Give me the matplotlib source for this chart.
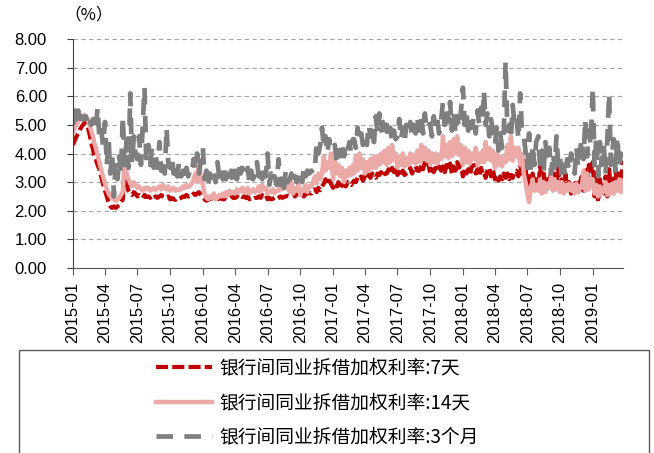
import matplotlib
matplotlib.use('Agg')
import matplotlib.pyplot as plt
import matplotlib.dates as mdates
from matplotlib.patches import Rectangle
import pandas as pd

plt.rcParams['font.family'] = ['Liberation Sans', 'Noto Sans CJK SC']

# 2015-01 .. 2019-03, 6 readings per month
months = pd.period_range('2015-01', '2019-03', freq='M')
obs_days = [1, 6, 11, 16, 21, 26]

# 银行间同业拆借加权利率:7天
rate_7d = [
    4.3, 4.45, 4.6, 4.7, 4.85, 4.95,  5.05, 5.1, 4.95, 4.7, 4.4, 4.15,
    3.95, 3.8, 3.6, 3.45, 3.2, 2.95,  2.7, 2.5, 2.3, 2.15, 2.1, 2.15,
    2.1, 2.15, 2.2, 2.3, 2.4, 3.25,  2.9, 2.7, 2.6, 2.55, 2.65, 2.6,
    2.5, 2.55, 2.5, 2.45, 2.55, 2.48,  2.5, 2.45, 2.52, 2.45, 2.5, 2.45,
    2.5, 2.55, 2.5, 2.48, 2.45, 2.5,  2.4, 2.45, 2.4, 2.38, 2.45, 2.42,
    2.45, 2.5, 2.48, 2.55, 2.5, 2.52,  2.5, 2.6, 2.55, 2.6, 2.65, 2.55,
    # 2016
    2.45, 2.4, 2.35, 2.38, 2.42, 2.45,  2.4, 2.35, 2.4, 2.42, 2.45, 2.4,
    2.4, 2.5, 2.45, 2.48, 2.55, 2.45,  2.45, 2.5, 2.45, 2.52, 2.48, 2.5,
    2.45, 2.5, 2.4, 2.45, 2.42, 2.45,  2.45, 2.5, 2.45, 2.55, 2.5, 2.55,
    2.4, 2.45, 2.4, 2.42, 2.45, 2.4,  2.45, 2.5, 2.45, 2.48, 2.5, 2.52,
    2.5, 2.55, 2.6, 2.5, 2.62, 2.5,  2.5, 2.55, 2.5, 2.58, 2.6, 2.62,
    2.6, 2.7, 2.75, 2.65, 2.8, 2.72,  2.85, 2.95, 3.1, 2.9, 3.05, 2.95,
    # 2017
    2.8, 2.95, 2.85, 3.0, 2.75, 2.9,  2.9, 2.85, 3.0, 2.95, 2.9, 3.0,
    3.05, 3.0, 3.15, 3.1, 3.2, 3.05,  3.2, 3.1, 3.25, 3.15, 3.3, 3.2,
    3.15, 3.3, 3.25, 3.35, 3.2, 3.3,  3.3, 3.45, 3.3, 3.5, 3.35, 3.55,
    3.25, 3.35, 3.2, 3.4, 3.25, 3.3,  3.35, 3.5, 3.3, 3.45, 3.55, 3.4,
    3.4, 3.6, 3.45, 3.7, 3.5, 3.65,  3.3, 3.45, 3.35, 3.5, 3.4, 3.55,
    3.4, 3.55, 3.35, 3.6, 3.45, 3.65,  3.3, 3.55, 3.4, 3.7, 3.5, 3.6,
    # 2018
    3.2, 3.5, 3.3, 3.45, 3.25, 3.55,  3.6, 3.3, 3.45, 3.2, 3.5, 3.3,
    3.35, 3.15, 3.4, 3.5, 3.2, 3.45,  3.1, 3.25, 3.05, 3.2, 3.1, 3.3,
    3.15, 3.3, 3.1, 3.25, 3.15, 3.35,  3.4, 3.2, 3.6, 3.3, 3.75, 3.5,
    2.9, 3.2, 2.8, 3.3, 2.95, 3.1,  2.75, 3.6, 2.9, 3.3, 2.8, 3.1,
    3.0, 3.4, 2.8, 3.3, 2.9, 3.5,  2.7, 3.1, 2.65, 3.3, 2.8, 3.0,
    2.6, 2.9, 2.7, 3.1, 2.65, 3.0,  3.2, 2.7, 3.5, 2.9, 3.6, 3.3,
    # 2019
    3.7, 2.5, 3.3, 2.3, 3.1, 2.7,  2.6, 3.2, 2.5, 3.45, 2.7, 3.1,
    2.7, 3.4, 2.9, 3.3, 2.8, 3.75,
]

# 银行间同业拆借加权利率:14天
rate_14d = [
    4.75, 4.9, 5.0, 5.15, 5.2, 5.3,  5.35, 5.3, 5.2, 5.0, 4.8, 4.6,
    4.4, 4.2, 3.95, 3.7, 3.45, 3.2,  2.95, 2.75, 2.6, 2.5, 2.45, 2.4,
    2.35, 2.4, 2.45, 2.55, 2.65, 3.7,  3.3, 3.1, 2.95, 2.85, 3.0, 2.9,
    2.8, 2.85, 2.75, 2.7, 2.8, 2.75,  2.8, 2.7, 2.75, 2.8, 2.72, 2.78,
    2.85, 2.75, 2.9, 2.8, 2.75, 2.85,  2.7, 2.75, 2.8, 2.7, 2.75, 2.72,
    2.75, 2.85, 2.8, 2.9, 2.82, 2.88,  2.95, 3.1, 3.3, 3.0, 3.8, 3.2,
    # 2016
    2.9, 2.6, 2.45, 2.4, 2.5, 2.45,  2.6, 2.4, 2.45, 2.55, 2.5, 2.6,
    2.5, 2.65, 2.55, 2.7, 2.6, 2.65,  2.6, 2.75, 2.65, 2.7, 2.8, 2.65,
    2.65, 2.8, 2.6, 2.7, 2.75, 2.65,  2.7, 2.85, 2.65, 2.9, 2.75, 2.8,
    2.6, 2.7, 2.65, 2.75, 2.62, 2.7,  2.7, 2.85, 2.75, 2.95, 2.8, 2.9,
    2.65, 3.0, 2.6, 2.8, 2.7, 2.9,  2.55, 2.75, 2.7, 2.9, 2.65, 2.85,
    2.85, 3.0, 3.2, 2.95, 3.3, 3.1,  3.3, 3.9, 3.4, 3.7, 3.5, 4.0,
    # 2017
    3.1, 3.8, 3.3, 3.6, 3.2, 3.5,  3.0, 3.4, 3.2, 3.5, 3.25, 3.6,
    3.3, 3.9, 3.4, 4.0, 3.5, 3.8,  3.3, 3.7, 3.4, 3.8, 3.5, 3.9,
    3.5, 3.9, 3.6, 4.0, 3.7, 4.1,  3.6, 4.2, 3.7, 4.3, 3.8, 4.0,
    3.5, 3.9, 3.6, 4.0, 3.55, 3.85,  3.6, 4.0, 3.7, 3.95, 3.65, 4.1,
    3.7, 4.3, 3.8, 4.2, 3.75, 4.1,  3.6, 4.0, 3.7, 4.0, 3.65, 3.95,
    3.8, 4.6, 3.9, 4.3, 3.85, 4.4,  3.9, 4.5, 4.0, 4.6, 3.95, 4.3,
    # 2018
    3.6, 4.2, 3.7, 4.1, 3.65, 4.0,  3.8, 4.2, 3.6, 4.0, 3.7, 4.1,
    3.7, 4.4, 3.8, 4.2, 3.75, 4.1,  3.5, 4.0, 3.6, 3.9, 3.55, 3.85,
    3.7, 4.3, 3.8, 4.6, 3.75, 4.2,  3.9, 4.2, 3.6, 4.0, 3.3, 3.0,
    2.6, 2.3, 2.8, 3.1, 2.7, 2.9,  2.7, 3.1, 2.6, 3.0, 2.65, 2.95,
    2.8, 3.2, 2.7, 3.1, 2.75, 3.0,  2.65, 3.0, 2.6, 2.9, 2.7, 2.95,
    2.7, 2.9, 2.6, 2.95, 2.65, 2.85,  2.8, 3.4, 2.7, 3.3, 2.75, 3.1,
    # 2019
    3.1, 2.6, 2.9, 2.5, 2.85, 2.6,  2.7, 3.0, 2.55, 2.9, 2.6, 2.95,
    2.6, 3.0, 2.7, 3.1, 2.65, 3.05,
]

# 银行间同业拆借加权利率:3个月
rate_3m = [
    5.0, 5.6, 5.2, 5.5, 5.0, 5.3,  5.2, 5.3, 5.05, 5.25, 5.0, 5.2,
    5.1, 4.8, 5.6, 4.6, 4.9, 4.3,  5.1, 3.6, 4.5, 3.3, 4.0, 2.5,
    3.7, 3.1, 3.9, 3.3, 5.3, 3.6,  4.5, 3.5, 6.1, 3.7, 4.6, 4.0,
    3.8, 4.6, 3.6, 5.0, 6.3, 3.7,  4.3, 3.6, 4.2, 3.5, 4.0, 3.5,
    4.4, 3.4, 3.8, 3.3, 4.9, 3.6,  3.5, 3.9, 3.3, 3.6, 3.2, 3.7,
    3.2, 3.4, 3.1, 3.5, 3.2, 3.4,  3.3, 3.8, 3.4, 4.0, 3.3, 3.7,
    # 2016
    4.2, 3.1, 3.4, 2.9, 3.3, 3.0,  3.3, 3.0, 3.7, 3.2, 3.5, 3.1,
    3.6, 3.1, 3.5, 3.2, 3.4, 3.0,  3.4, 3.1, 3.6, 3.3, 3.5, 3.2,
    3.2, 3.5, 3.0, 3.4, 3.1, 3.3,  3.7, 3.2, 3.5, 3.1, 3.6, 3.2,
    4.0, 2.9, 3.3, 3.0, 3.2, 2.9,  3.8, 2.9, 3.2, 2.8, 3.4, 3.0,
    3.1, 3.3, 2.9, 3.2, 3.0, 3.3,  3.4, 3.0, 3.5, 3.2, 3.4, 3.3,
    3.4, 3.3, 3.5, 4.4, 4.0, 4.3,  4.9, 4.2, 4.6, 4.0, 4.5, 4.1,
    # 2017
    4.2, 4.3, 3.7, 4.1, 3.9, 4.4,  3.9, 4.3, 4.1, 4.4, 4.0, 4.5,
    4.5, 4.2, 4.9, 4.4, 4.7, 4.3,  4.6, 4.3, 5.0, 4.6, 4.9, 4.4,
    5.3, 4.7, 5.4, 4.8, 5.1, 4.6,  5.0, 4.5, 4.9, 4.4, 4.8, 4.5,
    4.6, 5.2, 4.5, 4.9, 4.4, 5.0,  4.7, 5.1, 4.6, 5.0, 4.7, 5.2,
    4.8, 5.3, 4.7, 5.4, 4.9, 5.1,  5.0, 4.6, 5.3, 4.9, 5.2, 4.7,
    5.2, 5.8, 5.0, 5.5, 5.1, 5.8,  4.8, 5.5, 4.7, 5.3, 4.9, 5.4,
    # 2018
    6.3, 5.0, 5.4, 4.8, 5.2, 4.9,  5.3, 4.7, 5.5, 5.0, 5.6, 5.1,
    6.2, 5.0, 5.4, 4.6, 5.2, 4.8,  4.3, 4.9, 4.1, 4.7, 4.2, 4.8,
    7.2, 4.8, 5.0, 4.5, 5.7, 5.0,  5.2, 4.5, 6.1, 4.8, 4.6, 4.1,
    3.5, 4.7, 3.3, 4.3, 3.6, 4.4,  4.6, 3.5, 4.1, 3.4, 4.4, 3.7,
    4.2, 3.3, 4.0, 3.5, 4.6, 3.6,  3.9, 3.1, 3.6, 3.2, 3.8, 3.4,
    4.0, 3.6, 3.3, 4.2, 3.5, 4.1,  4.5, 3.8, 5.2, 3.9, 4.8, 4.3,
    # 2019
    6.3, 3.5, 4.6, 3.2, 4.4, 3.6,  4.3, 3.3, 4.5, 6.1, 3.6, 4.2,
    4.5, 3.4, 4.6, 3.5, 4.0, 3.9,
]

labels = ['银行间同业拆借加权利率:7天', '银行间同业拆借加权利率:14天',
          '银行间同业拆借加权利率:3个月']

dates = [pd.Timestamp(p.year, p.month, d) for p in months for d in obs_days]

fig = plt.figure(figsize=(6.54, 4.53), dpi=100)
ax = fig.add_axes([73 / 654, 1 - 268 / 453, 550 / 654, 229 / 453])

l1, = ax.plot(dates, rate_7d, color='#C00000', lw=3, label=labels[0])
l1.set_dashes((2.9, 1.0))
l2, = ax.plot(dates, rate_14d, color='#EBA9A7', lw=3.2, label=labels[1])
l3, = ax.plot(dates, rate_3m, color='#7F7F7F', lw=3.4, label=labels[2])
l3.set_dashes((3.5, 2.4))

ax.set_ylim(0, 8)
ax.set_yticks(range(0, 9))
ax.set_yticklabels(['%.2f' % v for v in range(0, 9)], fontsize=12)
ax.set_xlim(pd.Timestamp('2015-01-01'), pd.Timestamp('2019-03-27'))
ax.xaxis.set_major_locator(mdates.MonthLocator(bymonth=[1, 4, 7, 10]))
ax.xaxis.set_major_formatter(mdates.DateFormatter('%Y-%m'))
plt.setp(ax.get_xticklabels(), rotation=90, fontsize=12)

ax.grid(axis='y', color='#A6A6A6', lw=0.8, linestyle=(0, (4, 3)))
ax.set_axisbelow(True)
for s in ['top', 'right']:
    ax.spines[s].set_visible(False)
ax.spines['left'].set_color('#404040')
ax.spines['bottom'].set_color('#595959')
ax.tick_params(axis='y', length=4.3, color='#404040', pad=14.5)
ax.tick_params(axis='x', length=5, color='#595959', pad=5)

fig.text(89 / 654, 1 - 15 / 453, '（%）', ha='center', va='center',
         fontsize=12, family=['Noto Sans CJK SC', 'DejaVu Sans'])

# legend frame, cut off at the bottom like the original
fig.patches.append(Rectangle((19 / 654, -0.05), 630 / 654, 1 - 350 / 453 + 0.05,
                             transform=fig.transFigure, fill=False,
                             edgecolor='#595959', lw=1))
fig.legend(handles=[l1, l2, l3], loc='upper left',
           bbox_to_anchor=(152 / 654, 1 - 354 / 453), frameon=False,
           prop={'family': ['Noto Sans CJK SC', 'DejaVu Sans'], 'size': 13.5},
           handlelength=3.0, handletextpad=0.4, labelspacing=0.72,
           borderpad=0.2, borderaxespad=0)

fig.savefig('out.png', dpi=100)
